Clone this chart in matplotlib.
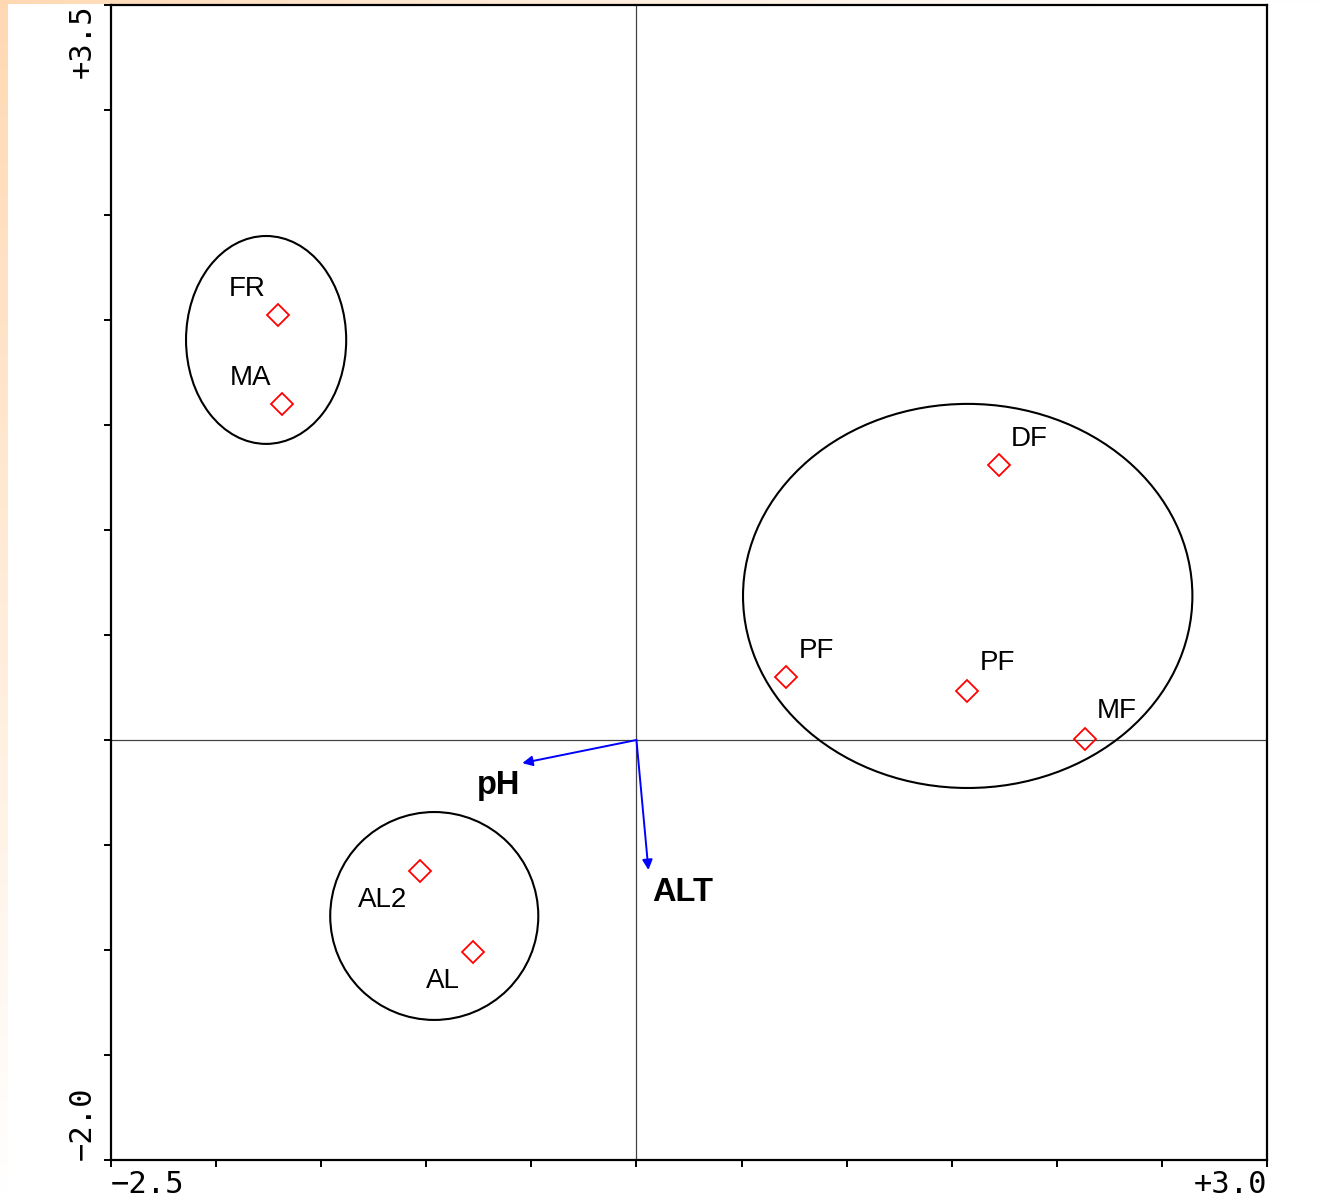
import numpy as np
import matplotlib.pyplot as plt
from matplotlib.patches import Ellipse

# site scores on the first two ordination axes
site_names = ['FR', 'MA', 'DF', 'PF', 'PF', 'MF', 'AL2', 'AL']
site_ax1 = [-1.705, -1.686, 1.724, 0.710, 1.571, 2.133, -1.029, -0.776]
site_ax2 = [2.024, 1.600, 1.310, 0.300, 0.233, 0.005, -0.624, -1.010]

# environmental variable vectors
env_names = ['pH', 'ALT']
env_ax1 = [-0.543, 0.057]
env_ax2 = [-0.110, -0.619]

# group envelopes: centre, width, height
group_cx = [-1.762, 1.576, -0.962]
group_cy = [1.905, 0.686, -0.838]
group_w = [0.762, 2.138, 0.990]
group_h = [0.990, 1.829, 0.990]

xlim = (-2.5, 3.0)
ylim = (-2.0, 3.5)

# label offsets in points (placement only)
site_offsets = [(-22, 19), (-23, 19), (22, 19), (22, 19), (22, 20), (23, 20), (-27, -21), (-22, -21)]
env_offsets = [(-17, -16), (25, -16)]

fig = plt.figure(figsize=(13.23, 11.97), dpi=100)

# peach gradient bands along the left and top edges
peach = np.array([1.0, 0.85, 0.70])
white = np.array([1.0, 1.0, 1.0])
t = np.linspace(0, 1, 256)[:, None]
band_v = (peach * (1 - t) + white * t)[:, None, :]
axl = fig.add_axes([0, 0, 8 / 1323, 1])
axl.imshow(band_v, aspect='auto', extent=(0, 1, 0, 1), origin='upper')
axl.axis('off')
t2 = np.linspace(0, 1, 256)[None, :, None]
band_h = peach * (1 - t2) ** 1.3 + white * (1 - (1 - t2) ** 1.3)
axt = fig.add_axes([0, 1 - 4 / 1197, 1, 4 / 1197])
axt.imshow(band_h, aspect='auto', extent=(0, 1, 0, 1))
axt.axis('off')

ax = fig.add_axes([111 / 1323, 37 / 1197, 1156 / 1323, 1155 / 1197])
ax.set_xlim(xlim)
ax.set_ylim(ylim)

ax.axhline(0, color='#444444', lw=0.9, zorder=1)
ax.axvline(0, color='#444444', lw=0.9, zorder=1)

for cx, cy, w, h in zip(group_cx, group_cy, group_w, group_h):
    ax.add_patch(Ellipse((cx, cy), w, h, fill=False, edgecolor='black', lw=1.5, zorder=2))

ax.plot(site_ax1, site_ax2, linestyle='none', marker='D', markersize=11.5,
        markerfacecolor='none', markeredgecolor='red', markeredgewidth=1.3, zorder=3)

for name, x, y, off in zip(site_names, site_ax1, site_ax2, site_offsets):
    ax.annotate(name, (x, y), xytext=off, textcoords='offset points',
                ha='center', va='center', fontsize=20, family='Liberation Sans')

for name, x, y, off in zip(env_names, env_ax1, env_ax2, env_offsets):
    ax.annotate('', xy=(x, y), xytext=(0, 0),
                arrowprops=dict(arrowstyle='-|>', color='blue', lw=1.4,
                                mutation_scale=15, shrinkA=0, shrinkB=0), zorder=4)
    ax.annotate(name, (x, y), xytext=off, textcoords='offset points',
                ha='center', va='center', fontsize=23.5, fontweight='bold',
                family='Liberation Sans')

# frame and ticks
for s in ax.spines.values():
    s.set_linewidth(1.6)
ticks_x = np.arange(-2.5, 3.01, 0.5)
ticks_y = np.arange(-2.0, 3.51, 0.5)
ax.set_xticks(ticks_x)
ax.set_yticks(ticks_y)
ax.set_xticklabels(['\u22122.5'] + [''] * (len(ticks_x) - 2) + ['+3.0'],
                   family='DejaVu Sans Mono', fontsize=22)
ax.set_yticklabels(['\u22122.0'] + [''] * (len(ticks_y) - 2) + ['+3.5'],
                   family='DejaVu Sans Mono', fontsize=22, rotation=90)
ax.tick_params(direction='out', length=5, width=1.4)
ax.tick_params(axis='x', pad=2)
ax.tick_params(axis='y', pad=5)
xl = ax.get_xticklabels()
xl[0].set_ha('left')
xl[-1].set_ha('right')
yl = ax.get_yticklabels()
yl[0].set_va('bottom')
yl[-1].set_va('top')

fig.savefig('out.png', dpi=100)
